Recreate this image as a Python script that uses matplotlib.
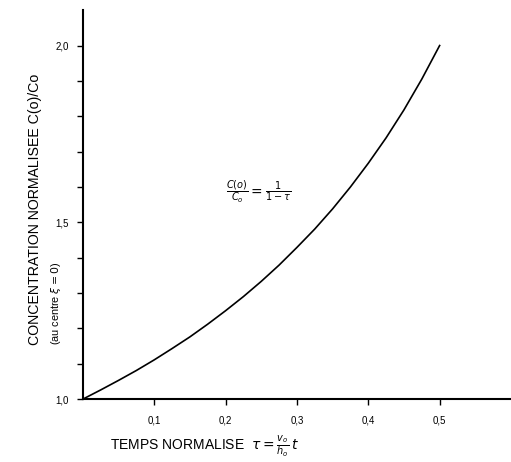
import matplotlib
matplotlib.use("Agg")
import matplotlib.pyplot as plt

tau = [0.0, 0.025, 0.05, 0.075, 0.10, 0.125, 0.15, 0.175, 0.20, 0.225, 0.25,
       0.275, 0.30, 0.325, 0.35, 0.375, 0.40, 0.425, 0.45, 0.475, 0.50]
conc = [1.0, 1.026, 1.053, 1.081, 1.111, 1.143, 1.176, 1.212, 1.25, 1.290, 1.333,
        1.379, 1.429, 1.481, 1.538, 1.6, 1.667, 1.739, 1.818, 1.905, 2.0]

x_ticks = [0.1, 0.2, 0.3, 0.4, 0.5]
x_labels = ["0,1", "0,2", "0,3", "0,4", "0,5"]
y_major = [1.0, 1.5, 2.0]
y_labels = ["1,0", "1,5", "2,0"]
y_minor = [1.1, 1.2, 1.3, 1.4, 1.6, 1.7, 1.8, 1.9]

plt.rcParams["font.family"] = ["Liberation Sans", "DejaVu Sans"]
plt.rcParams["mathtext.fontset"] = "dejavusans"

fig = plt.figure(figsize=(5.11, 4.62), dpi=100)
ax = fig.add_axes([0.162, 0.136, 0.838, 0.842])

ax.plot(tau, conc, color="black", linewidth=1.2)

ax.set_xlim(0, 0.6)
ax.set_ylim(1.0, 2.1)

ax.spines["top"].set_visible(False)
ax.spines["right"].set_visible(False)
ax.spines["left"].set_linewidth(1.5)
ax.spines["bottom"].set_linewidth(1.5)

ax.set_xticks(x_ticks)
ax.set_xticklabels(x_labels, fontsize=7)
ax.set_yticks(y_major)
ax.set_yticklabels(y_labels, fontsize=7)
ax.set_yticks(y_minor, minor=True)
ax.tick_params(axis="both", which="major", length=4, width=1, pad=6)
ax.tick_params(axis="y", which="minor", length=4, width=1)
ax.tick_params(axis="x", which="major", pad=8)

# formula annotation
ax.text(0.2, 1.575, r"$\frac{C(o)}{C_o} = \frac{1}{1-\tau}$", fontsize=10)

# y label, two lines, bottom aligned
fig.text(0.068, 0.253, "CONCENTRATION NORMALISEE C(o)/Co", rotation=90,
         ha="center", va="bottom", fontsize=10.2)
fig.text(0.11, 0.253, r"(au centre $\xi = 0$)", rotation=90,
         ha="center", va="bottom", fontsize=7.8)

# x label
fig.text(0.215, 0.035, r"TEMPS NORMALISE  $\tau = \frac{v_o}{h_o}\,t$",
         ha="left", va="center", fontsize=10)

fig.savefig("out.png", dpi=100)
